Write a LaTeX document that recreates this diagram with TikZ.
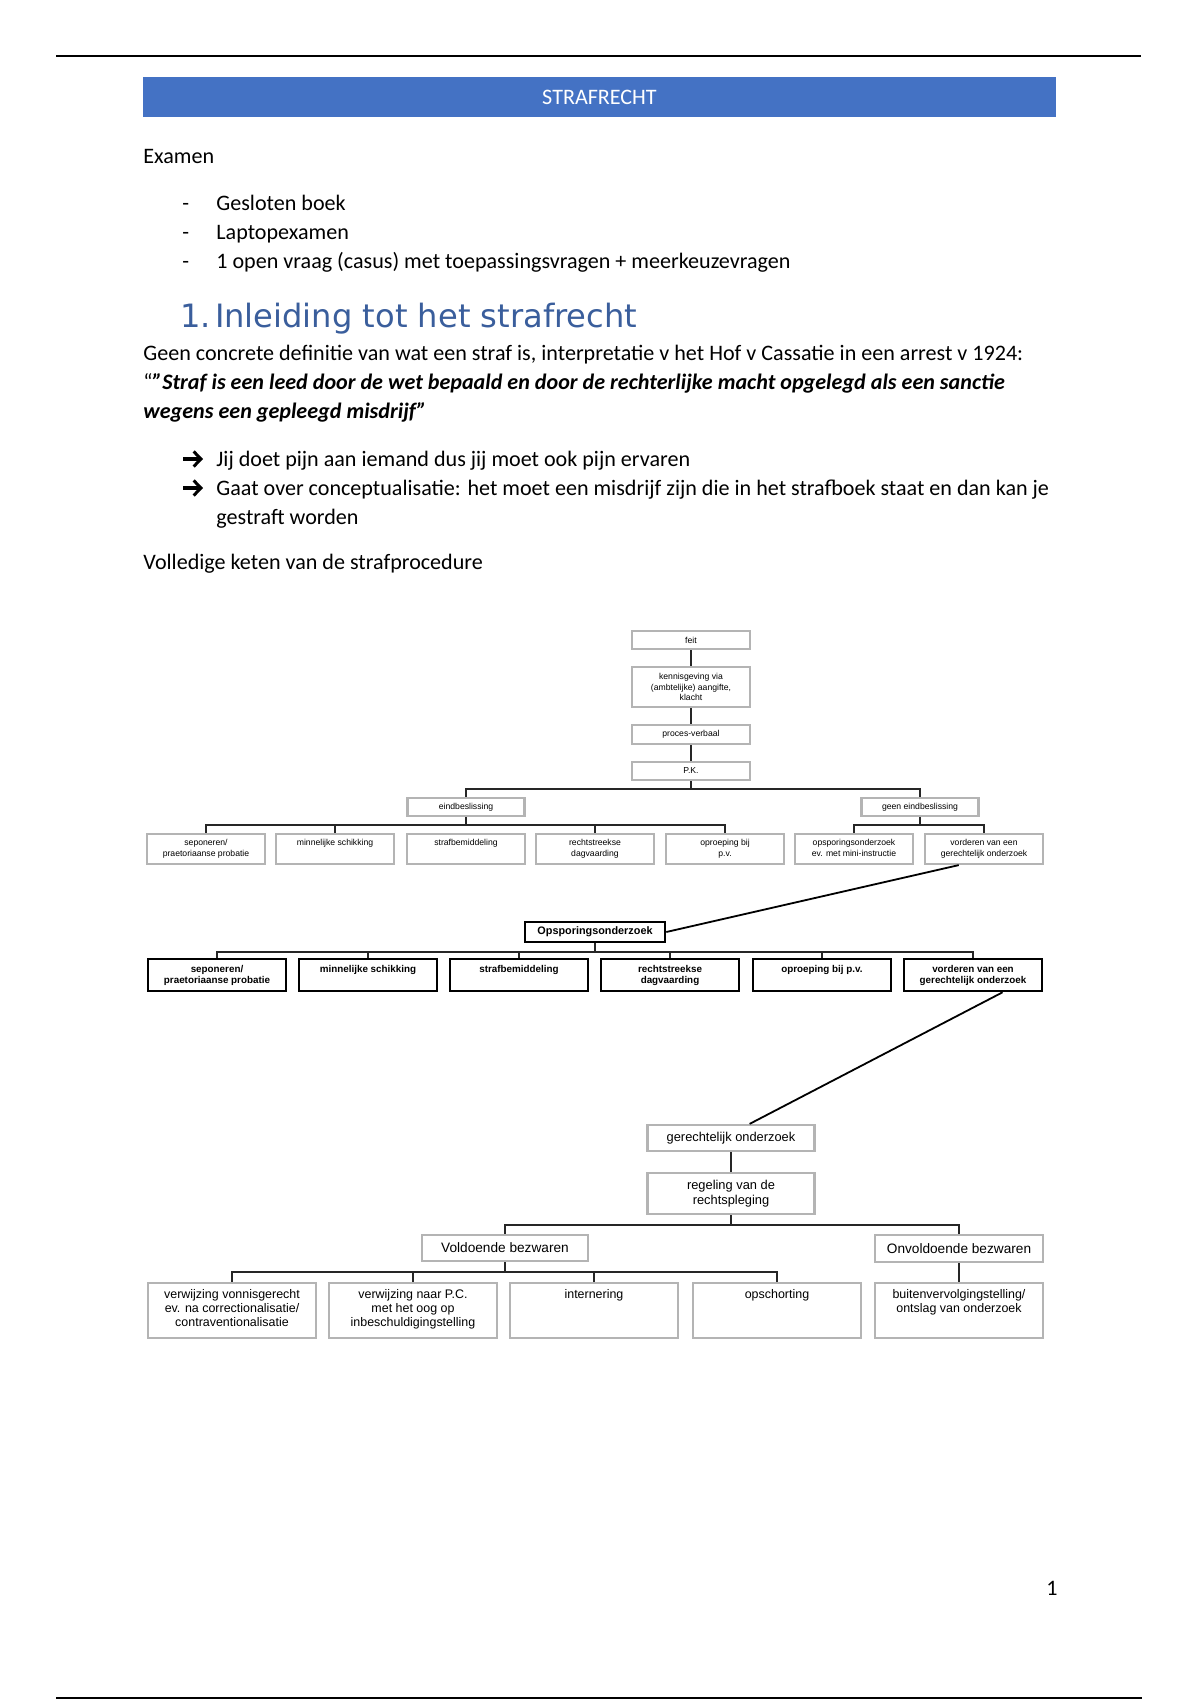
\documentclass[tikz,border=0pt]{standalone}
\usepackage{fontspec}
\setmainfont{Carlito}
\newfontfamily\headfont{DejaVu Sans}
\newfontfamily\dfont{Liberation Sans}
\usetikzlibrary{calc,arrows.meta}
\definecolor{banner}{HTML}{4472C4}
\definecolor{headblue}{HTML}{3A5E9C}
\definecolor{boxgray}{HTML}{B4B4B4}
\def\px{0.175mm}
\tikzset{
  txt/.style={anchor=base west, inner sep=0, font=\fontsize{11}{13}\selectfont},
  gbox/.style={draw=boxgray, line width=1.1pt, inner sep=0, fill=white},
  bbox/.style={draw=black, line width=1.3pt, inner sep=0, fill=white},
  conn/.style={draw=black!85, line width=0.7pt},
  tiny/.style={font=\dfont\fontsize{4.3}{5.1}\selectfont, align=center, inner sep=0},
  r1lbl/.style={anchor=north, yshift=-3.2pt, font=\dfont\fontsize{4.3}{5.1}\selectfont, align=center, inner sep=0},
  r2lbl/.style={anchor=north, yshift=-3.6pt, font=\dfont\bfseries\fontsize{4.9}{5.6}\selectfont, align=center, inner sep=0},
  r3lbl/.style={anchor=north, yshift=-3.4pt, font=\dfont\fontsize{6.2}{7}\selectfont, align=center, inner sep=0},
  mid/.style={font=\dfont\fontsize{6.4}{7.2}\selectfont, align=center, inner sep=0},
  bularrow/.style={line width=1.5pt, -{Straight Barb[length=3.6pt,width=7.5pt,line width=1.5pt]}},
}
\begin{document}
\begin{tikzpicture}[x=0.175mm,y=-0.175mm]
\useasboundingbox (0,0) rectangle (1200,1700);
\fill[white] (0,0) rectangle (1200,1700);
% page rules
\draw[line width=0.8pt] (56,56) -- (1141,56);
\draw[line width=0.9pt] (56,1698) -- (1142,1698);
% banner
\node[fill=banner, minimum width=913*\px, minimum height=40*\px, inner sep=0, text=white, font=\fontsize{11}{13}\selectfont] (banner) at (599.5,97) {STRAFRECHT};
% text
\node[txt] (examen) at (143,163) {Examen};
\node[txt] (d1) at (182,210) {-};
\node[txt] (b1) at (216,210) {Gesloten boek};
\node[txt] (d2) at (182,239) {-};
\node[txt] (b2) at (216,239) {Laptopexamen};
\node[txt] (d3) at (182,268) {-};
\node[txt] (b3) at (216,268) {1 open vraag (casus) met toepassingsvragen + meerkeuzevragen};
\node[anchor=base west, inner sep=0, font=\headfont\fontsize{16}{19}\selectfont, text=headblue] (h1) at (180,327) {1.\hspace{2pt}Inleiding tot het strafrecht};
\node[txt] (p1) at (143,360) {Geen concrete definitie van wat een straf is, interpretatie v het Hof v Cassatie in een arrest v 1924:};
\node[txt] (p2) at (143,389) {“\textbf{\textit{\symbol{34}Straf is een leed door de wet bepaald en door de rechterlijke macht opgelegd als een sanctie}}};
\node[txt] (p3) at (143,418) {\textbf{\textit{wegens een gepleegd misdrijf”}}};
\draw[bularrow] (183,459) -- (203,459);
\node[txt] (t1) at (216,466) {Jij doet pijn aan iemand dus jij moet ook pijn ervaren};
\draw[bularrow] (183,488) -- (203,488);
\node[txt] (t2) at (216,495) {Gaat over conceptualisatie: het moet een misdrijf zijn die in het strafboek staat en dan kan je};
\node[txt] (t3) at (216,524) {gestraft worden};
\node[txt] (vk) at (143,569) {Volledige keten van de strafprocedure};
\node[txt] (pg) at (1046,1595) {1};

% ---------- diagram: top column ----------
\node[gbox, tiny, minimum width=118*\px, minimum height=18*\px] (feit) at (691,640) {feit};
\node[gbox, tiny, minimum width=118*\px, minimum height=40*\px] (kenn) at (691,687) {kennisgeving via\\(ambtelijke) aangifte,\\klacht};
\node[gbox, tiny, minimum width=118*\px, minimum height=19*\px] (pv) at (691,734.5) {proces-verbaal};
\node[gbox, tiny, minimum width=118*\px, minimum height=18*\px] (pk) at (691,771) {P.K.};
\draw[conn] (feit) -- (kenn);
\draw[conn] (kenn) -- (pv);
\draw[conn] (pv) -- (pk);

\node[gbox, tiny, minimum width=117*\px, minimum height=18*\px] (eind) at (466,807) {eindbeslissing};
\node[gbox, tiny, minimum width=117*\px, minimum height=18*\px] (geen) at (920,807) {geen eindbeslissing};
\coordinate (j1) at (691,789);
\draw[conn] (pk.south) -- (j1);
\draw[conn] (eind.north) |- (j1) -| (geen.north);

% row 1
\foreach \n/\x/\t in {r11/206/{seponeren/\\praetoriaanse probatie},
                      r12/335/{minnelijke schikking},
                      r13/466/{strafbemiddeling},
                      r14/595/{rechtstreekse\\dagvaarding},
                      r15/725/{oproeping bij\\p.v.},
                      r16/854/{opsporingsonderzoek\\ev. met mini-instructie},
                      r17/984/{vorderen van een\\gerechtelijk onderzoek}}
  \node[gbox, minimum width=118*\px, minimum height=30*\px, label={[r1lbl]north:{\t}}] (\n) at (\x,849) {};
\coordinate (j2) at (466,825);
\draw[conn] (eind.south) -- (j2);
\draw[conn] (r11.north) |- (j2) -| (r15.north);
\draw[conn] (r12.north) -- (r12.north |- j2);
\draw[conn] (r14.north) -- (r14.north |- j2);
\coordinate (j3) at (920,825);
\draw[conn] (geen.south) -- (j3);
\draw[conn] (r16.north) |- (j3) -| (r17.north);

% opsporingsonderzoek
\node[bbox, font=\dfont\bfseries\fontsize{5.4}{6}\selectfont, minimum width=140*\px, minimum height=20*\px] (ops) at (595,932) {Opsporingsonderzoek};
\coordinate (dg1) at ($(r17.south west)!0.29!(r17.south east)$);
\draw[line width=0.9pt] (dg1) -- (ops.east);

% row 2
\foreach \n/\x/\t in {r21/217/{seponeren/\\praetoriaanse probatie},
                      r22/368/{minnelijke schikking},
                      r23/519/{strafbemiddeling},
                      r24/670/{rechtstreekse\\dagvaarding},
                      r25/822/{oproeping bij p.v.},
                      r26/973/{vorderen van een\\gerechtelijk onderzoek}}
  \node[bbox, minimum width=138*\px, minimum height=32*\px, label={[r2lbl]north:{\t}}] (\n) at (\x,975) {};
\coordinate (j4) at (595,952);
\draw[conn, line width=0.6pt] (ops.south) -- (j4);
\draw[conn, line width=0.6pt] (r21.north) |- (j4) -| (r26.north);
\draw[conn, line width=0.6pt] (r22.north) -- (r22.north |- j4);
\draw[conn, line width=0.6pt] (r23.north) -- (r23.north |- j4);
\draw[conn, line width=0.6pt] (r24.north) -- (r24.north |- j4);
\draw[conn, line width=0.6pt] (r25.north) -- (r25.north |- j4);

% lower part
\node[gbox, mid, minimum width=167*\px, minimum height=26*\px] (ger) at (731,1138) {gerechtelijk onderzoek};
\node[gbox, mid, minimum width=167*\px, minimum height=41*\px] (reg) at (731,1193.5) {regeling van de\\rechtspleging};
\coordinate (dg2) at ($(r26.south west)!0.71!(r26.south east)$);
\coordinate (dg3) at ($(ger.north west)!0.61!(ger.north east)$);
\draw[line width=0.9pt] (dg2) -- (dg3);
\draw[conn] (ger) -- (reg);

\node[gbox, mid, font=\dfont\fontsize{6.8}{7.5}\selectfont, minimum width=166*\px, minimum height=26*\px] (vol) at (505,1248) {Voldoende bezwaren};
\node[gbox, mid, font=\dfont\fontsize{6.8}{7.5}\selectfont, minimum width=168*\px, minimum height=27*\px] (onv) at (959,1248.5) {Onvoldoende bezwaren};
\coordinate (j5) at (731,1225);
\draw[conn] (reg.south) -- (j5);
\draw[conn] (vol.north) |- (j5) -| (onv.north);

% row 3
\foreach \n/\x/\t in {r31/232/{verwijzing vonnisgerecht\\ev. na correctionalisatie/\\contraventionalisatie},
                      r32/413/{verwijzing naar P.C.\\met het oog op\\inbeschuldigingstelling},
                      r33/594/{internering},
                      r34/777/{opschorting},
                      r35/959/{buitenvervolgingstelling/\\ontslag van onderzoek}}
  \node[gbox, minimum width=168*\px, minimum height=55*\px, label={[r3lbl]north:{\t}}] (\n) at (\x,1310.5) {};
\coordinate (j6) at (505,1272);
\draw[conn] (vol.south) -- (j6);
\draw[conn] (r31.north) |- (j6) -| (r34.north);
\draw[conn] (r32.north) -- (r32.north |- j6);
\draw[conn] (r33.north) -- (r33.north |- j6);
\draw[conn, line width=1.2pt] (onv.south) -- (r35.north);
\end{tikzpicture}
\end{document}
